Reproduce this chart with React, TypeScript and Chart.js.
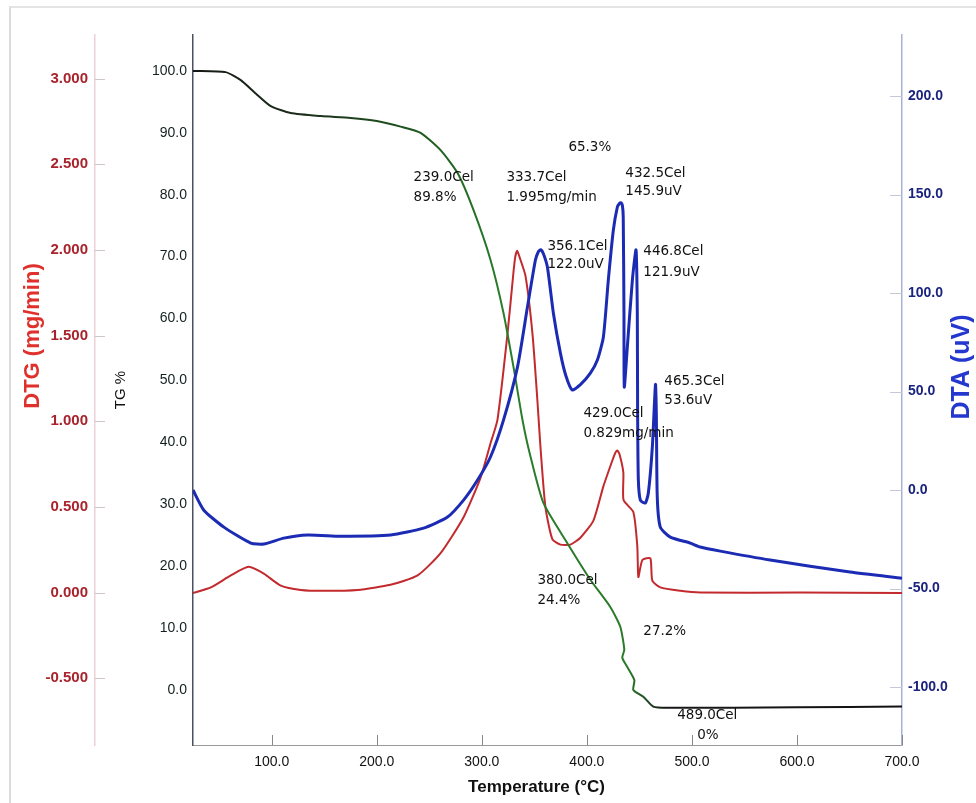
import React, { useEffect, useRef } from 'react';
import { Chart, registerables } from 'chart.js';

Chart.register(...registerables);

// ---- Data ----
const TG_TEMP = [25, 56, 70.5, 85, 99, 118, 147, 175, 200, 222.7, 241.7, 260.7, 276.9, 292.1, 308.2, 320.6, 330.1, 338.7, 345.3, 358.6, 381.4, 403.3, 422.3, 431.8, 435.6, 433.7, 438.5, 445.2, 444.2, 453.7, 463.2, 476.5, 600, 700];
const TG_VALUES = [100.0, 99.8, 98.5, 96.3, 94.3, 93.2, 92.7, 92.4, 91.9, 91.0, 90.0, 87.2, 83.5, 77.5, 69.5, 60.9, 52.2, 43.6, 38.4, 30.2, 23.7, 17.8, 13.4, 10.2, 6.5, 5.2, 3.7, 1.6, 0.0, -1.1, -2.7, -2.9, -2.8, -2.7];

const DTG_TEMP = [25, 42, 61, 78, 92.4, 108.6, 127.6, 149.4, 181.8, 213, 238.8, 260.7, 282.6, 298.7, 308.2, 314.9, 324.4, 330.1, 331.8, 333.7, 335.8, 341.5, 348.2, 352.9, 355.8, 360.5, 367.2, 374.8, 384.3, 393.8, 406.2, 415.7, 424.2, 427, 429, 431.2, 434.7, 434.9, 444.2, 448, 449, 452.8, 460.4, 462.3, 469.9, 489, 508, 603, 700];
const DTG_VALUES = [-0.003, 0.03, 0.10, 0.15, 0.11, 0.04, 0.015, 0.01, 0.015, 0.045, 0.10, 0.23, 0.44, 0.67, 0.87, 1.01, 1.51, 1.87, 1.96, 1.995, 1.96, 1.85, 1.51, 1.12, 0.85, 0.50, 0.31, 0.28, 0.28, 0.32, 0.42, 0.62, 0.77, 0.815, 0.829, 0.805, 0.70, 0.54, 0.47, 0.27, 0.09, 0.19, 0.20, 0.07, 0.03, 0.01, 0.0, 0.0, -0.003];

const DTA_TEMP = [25, 35.3, 54.4, 80, 92.4, 111.4, 134.2, 165.6, 213.2, 244.5, 267.3, 282.6, 295.9, 308.2, 320.6, 333.9, 343.4, 351, 353.8, 356.1, 358.6, 362.4, 368.1, 374.8, 380, 386, 393.8, 403.3, 410, 415.7, 420.4, 425.2, 429, 431, 432.5, 433.8, 434.6, 435.3, 435.6, 438.5, 443.3, 446.8, 448, 448.3, 449, 450.9, 455.6, 458.5, 462.3, 465.3, 466.1, 467, 469.9, 479.4, 498.4, 507.9, 527, 574.5, 650.5, 700];
const DTA_VALUES = [0, -10.2, -18.8, -26.9, -27.4, -24.4, -22.8, -23.4, -22.8, -19.3, -13.7, -5.1, 5.1, 16.8, 35.5, 62.4, 92.9, 116.8, 121.0, 122.0, 120.0, 113.2, 89.8, 69.5, 58, 50.8, 53.5, 59.4, 66, 77.7, 106.6, 132, 143.7, 145.5, 145.9, 144.5, 138.6, 89.8, 52.3, 72.6, 106.6, 121.9, 89.8, 39, 5.1, -5.1, -6.6, -1.5, 21.8, 53.6, 39, -3.6, -18.8, -23.9, -26.9, -28.9, -31, -35.5, -41.6, -44.7];

const X_TICKS = [100, 200, 300, 400, 500, 600, 700];
const TG_TICKS = [0, 10, 20, 30, 40, 50, 60, 70, 80, 90, 100];
const DTG_TICKS = [-0.5, 0, 0.5, 1, 1.5, 2, 2.5, 3];
const DTA_TICKS = [-100, -50, 0, 50, 100, 150, 200];

// Annotations: text, anchored at (temperature, TG %)
const ANNOT_TEXT = ['65.3%', '239.0Cel', '89.8%', '333.7Cel', '1.995mg/min', '432.5Cel', '145.9uV', '356.1Cel', '122.0uV', '446.8Cel', '121.9uV', '465.3Cel', '53.6uV', '429.0Cel', '0.829mg/min', '380.0Cel', '24.4%', '27.2%', '489.0Cel', '0%'];
const ANNOT_TEMP = [382.4, 235.0, 235.0, 323.4, 323.4, 436.6, 436.6, 362.4, 362.4, 453.7, 453.7, 473.7, 473.7, 396.7, 396.7, 352.9, 352.9, 453.7, 486.0, 505.1];
const ANNOT_TG = [87.7, 82.7, 79.6, 82.7, 79.6, 83.5, 80.5, 71.7, 68.7, 70.9, 67.5, 49.8, 46.8, 44.7, 41.5, 17.6, 14.5, 9.5, -4.2, -7.4];

const FONT = '"Liberation Sans", Arial, sans-serif';

const fixedTicks = (list: number[]) => (scale: any) => {
  scale.ticks = list.map((v) => ({ value: v }));
};

const decorPlugin = {
  id: 'decor',
  afterDraw(chart: any) {
    const { ctx, scales } = chart;
    const ca = chart.chartArea;
    ctx.save();
    // tick marks
    ctx.lineWidth = 1;
    ctx.strokeStyle = '#cfc4c6';
    DTG_TICKS.forEach((v) => {
      const y = Math.round(scales.yDTG.getPixelForValue(v)) + 0.5;
      const x0 = scales.yDTG.right;
      ctx.beginPath(); ctx.moveTo(x0, y); ctx.lineTo(x0 + 10, y); ctx.stroke();
    });
    ctx.strokeStyle = '#c4c8d6';
    DTA_TICKS.forEach((v) => {
      const y = Math.round(scales.yDTA.getPixelForValue(v)) + 0.5;
      const x0 = scales.yDTA.left;
      ctx.beginPath(); ctx.moveTo(x0 - 12, y); ctx.lineTo(x0, y); ctx.stroke();
    });
    ctx.strokeStyle = '#888';
    X_TICKS.forEach((v) => {
      const x = Math.round(scales.x.getPixelForValue(v)) + 0.5;
      ctx.beginPath(); ctx.moveTo(x, ca.bottom); ctx.lineTo(x, ca.bottom - 10); ctx.stroke();
    });

    // annotations
    ctx.fillStyle = '#111';
    ctx.font = '13.5px "DejaVu Sans", sans-serif';
    ctx.textAlign = 'left';
    ctx.textBaseline = 'middle';
    ANNOT_TEXT.forEach((t, i) => {
      const x = scales.x.getPixelForValue(ANNOT_TEMP[i]);
      const y = scales.yTG.getPixelForValue(ANNOT_TG[i]);
      ctx.fillText(t, x, y);
    });

    // axis titles
    ctx.textAlign = 'center';
    ctx.textBaseline = 'middle';
    ctx.save();
    ctx.translate(33, 336);
    ctx.rotate(-Math.PI / 2);
    ctx.font = 'bold 22px ' + FONT;
    ctx.fillStyle = '#e0302c';
    ctx.fillText('DTG (mg/min)', 0, 0);
    ctx.restore();

    ctx.save();
    ctx.translate(121, 390);
    ctx.rotate(-Math.PI / 2);
    ctx.font = '15px ' + FONT;
    ctx.fillStyle = '#111';
    ctx.fillText('TG %', 0, 0);
    ctx.restore();

    ctx.save();
    ctx.translate(962, 367);
    ctx.rotate(-Math.PI / 2);
    ctx.font = 'bold 25px ' + FONT;
    ctx.fillStyle = '#2438d0';
    ctx.fillText('DTA (uV)', 0, 0);
    ctx.restore();

    ctx.font = 'bold 17px ' + FONT;
    ctx.fillStyle = '#111';
    ctx.fillText('Temperature (\u00B0C)', (ca.left + ca.right) / 2 - 11, 787);
    ctx.restore();
  },
};

export default function App() {
  const ref = useRef<HTMLCanvasElement | null>(null);

  useEffect(() => {
    if (!ref.current) return;
    const tgColor = (c: any) => {
      const chart = c.chart;
      const ca = chart.chartArea;
      if (!ca || !chart.scales.x) return '#2a6e2a';
      const g = chart.ctx.createLinearGradient(ca.left, 0, ca.right, 0);
      const xs = chart.scales.x;
      const f = (t: number) => Math.min(1, Math.max(0, (xs.getPixelForValue(t) - ca.left) / (ca.right - ca.left)));
      g.addColorStop(f(25), '#141814');
      g.addColorStop(f(130), '#1c2e1c');
      g.addColorStop(f(250), '#1f5c20');
      g.addColorStop(f(320), '#2a7d2a');
      g.addColorStop(f(440), '#2a7a2a');
      g.addColorStop(f(475), '#161816');
      g.addColorStop(f(700), '#121212');
      return g;
    };

    const chart = new Chart(ref.current, {
      type: 'line',
      data: {
        datasets: [
          {
            label: 'DTA',
            data: DTA_TEMP.map((x, i) => ({ x, y: DTA_VALUES[i] })),
            yAxisID: 'yDTA',
            borderColor: '#1c2bb4',
            borderWidth: 3,
            pointRadius: 0,
            tension: 0.2,
            order: 0,
          },
          {
            label: 'TG',
            data: TG_TEMP.map((x, i) => ({ x, y: TG_VALUES[i] })),
            yAxisID: 'yTG',
            borderColor: tgColor,
            borderWidth: 2,
            pointRadius: 0,
            tension: 0.2,
            order: 1,
          },
          {
            label: 'DTG',
            data: DTG_TEMP.map((x, i) => ({ x, y: DTG_VALUES[i] })),
            yAxisID: 'yDTG',
            borderColor: '#c22a2e',
            borderWidth: 2,
            pointRadius: 0,
            tension: 0.2,
            order: 2,
          },
        ],
      },
      options: {
        animation: false,
        responsive: false,
        devicePixelRatio: 1,
        layout: { padding: { top: 35, left: 0, right: 0, bottom: 0 } },
        plugins: { legend: { display: false }, tooltip: { enabled: false } },
        scales: {
          x: {
            type: 'linear',
            min: 25,
            max: 700,
            afterBuildTicks: fixedTicks(X_TICKS),
            afterFit: (s: any) => { s.height = 58; },
            grid: { display: false, drawTicks: false },
            border: { display: true, color: '#9a9a9a', width: 1 },
            ticks: {
              padding: 9,
              color: '#111',
              font: { family: FONT, size: 14 },
              callback: (v: any) => Number(v).toFixed(1),
              maxRotation: 0,
            },
          },
          yDTG: {
            type: 'linear',
            position: 'left',
            weight: 10,
            min: -0.89,
            max: 3.255,
            afterBuildTicks: fixedTicks(DTG_TICKS),
            afterFit: (s: any) => { s.width = 95; },
            grid: { display: false, drawTicks: false },
            border: { display: true, color: '#ecd2d5', width: 1.5 },
            ticks: {
              padding: 7,
              color: '#a8232b',
              font: { family: FONT, size: 15, weight: 'bold' },
              callback: (v: any) => Number(v).toFixed(3),
            },
          },
          yTG: {
            type: 'linear',
            position: 'left',
            weight: 0,
            min: -8.9,
            max: 105.8,
            afterBuildTicks: fixedTicks(TG_TICKS),
            afterFit: (s: any) => { s.width = 98; },
            grid: { display: false, drawTicks: false },
            border: { display: true, color: '#4a5060', width: 1.5 },
            ticks: {
              padding: 6,
              color: '#142020',
              font: { family: FONT, size: 14 },
              callback: (v: any) => Number(v).toFixed(1),
            },
          },
          yDTA: {
            type: 'linear',
            position: 'right',
            min: -129.4,
            max: 231.0,
            afterBuildTicks: fixedTicks(DTA_TICKS),
            afterFit: (s: any) => { s.width = 74; },
            grid: { display: false, drawTicks: false },
            border: { display: true, color: '#a8b2d8', width: 1.5 },
            ticks: {
              padding: 6,
              color: '#1a237e',
              font: { family: FONT, size: 14, weight: 'bold' },
              callback: (v: any) => Number(v).toFixed(1),
            },
          },
        },
      },
      plugins: [decorPlugin],
    } as any);
    return () => chart.destroy();
  }, []);

  return (
    <div style={{ position: 'absolute', left: 0, top: 0, width: 976, height: 803, background: '#fff', overflow: 'hidden' }}>
      <canvas ref={ref} width={976} height={803} style={{ display: 'block', width: 976, height: 803 }} />
      <div style={{ position: 'absolute', left: 9, top: 6, right: 0, bottom: 0, borderLeft: '2px solid #dcdcdc', borderTop: '2px solid #e4e4e4', pointerEvents: 'none' }} />
    </div>
  );
}
